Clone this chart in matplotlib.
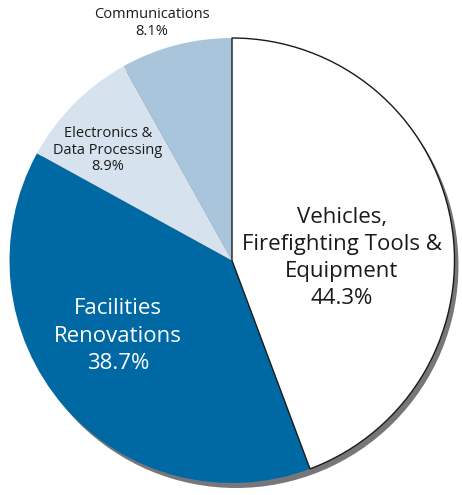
import matplotlib
matplotlib.use("Agg")
import matplotlib.pyplot as plt
from matplotlib.patches import Circle

plt.rcParams['font.family'] = ['Open Sans', 'DejaVu Sans']

categories = ["Vehicles,\nFirefighting Tools &\nEquipment",
              "Facilities\nRenovations",
              "Electronics &\nData Processing",
              "Communications"]
shares = [44.3, 38.7, 8.9, 8.1]
colors = ["#ffffff", "#0068a3", "#d6e3ee", "#a8c5dc"]

W, H = 462, 495
fig = plt.figure(figsize=(W / 100, H / 100), dpi=100)
ax = fig.add_axes([0, 0, 1, 1])

cx, cy, r = 232, H - 260.5, 222.5

# drop shadow behind the pie
ax.add_patch(Circle((cx + 4, cy - 5), r, facecolor="#77777b", edgecolor="none", zorder=0))

wedges, _ = ax.pie(shares, colors=colors, startangle=90, counterclock=False,
                   center=(cx, cy), radius=r, frame=True,
                   wedgeprops=dict(linewidth=0))
wedges[0].set_edgecolor("#1a1a1a")
wedges[0].set_linewidth(1.0)
wedges[0].set_zorder(3)
ax.set_xlim(0, W)
ax.set_ylim(0, H)
ax.set_aspect('equal')
ax.axis('off')

labels = [f"{c}\n{s:.1f}%" for c, s in zip(categories, shares)]
ax.text(342, H - 258, labels[0], ha='center', va='center', fontsize=16,
        color="#1a1a1a", linespacing=1.38, zorder=5)
ax.text(118, H - 336, labels[1], ha='center', va='center', fontsize=16,
        color="white", linespacing=1.38, zorder=5)
ax.text(108, H - 150, labels[2], ha='center', va='center', fontsize=10.5,
        color="#1a1a1a", linespacing=1.1, zorder=5)
ax.text(152, H - 23, labels[3], ha='center', va='center', fontsize=10.5,
        color="#1a1a1a", linespacing=1.1, zorder=5)

fig.savefig("out.png", dpi=100)
